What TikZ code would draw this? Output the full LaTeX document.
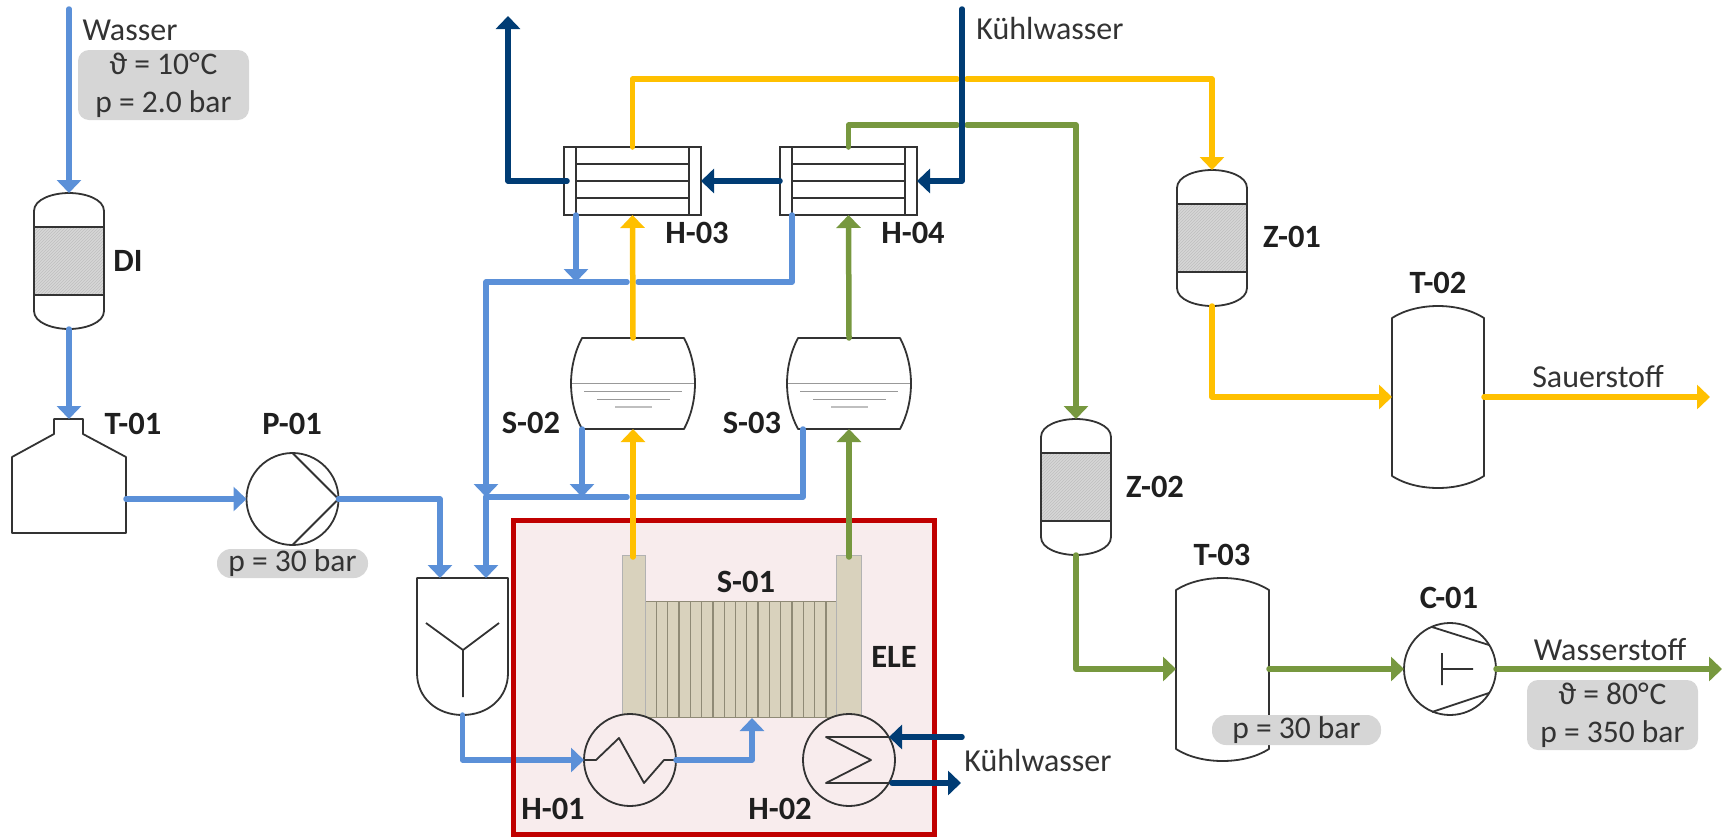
\documentclass[tikz,border=0pt]{standalone}
\usepackage{fontspec}
\setmainfont{Carlito}
\usetikzlibrary{arrows.meta,patterns,calc}
\definecolor{wblue}{HTML}{5B90D8}
\definecolor{cblue}{HTML}{003C74}
\definecolor{oyellow}{HTML}{FFC000}
\definecolor{hgreen}{HTML}{77983F}
\definecolor{redline}{HTML}{C00000}
\definecolor{redfill}{HTML}{F8ECED}
\definecolor{infogrey}{HTML}{D6D6D6}
\definecolor{outline}{HTML}{333333}
\definecolor{stackfill}{HTML}{D9D2BD}
\definecolor{stackline}{HTML}{8F8A76}
\tikzset{
  pipe/.style={line width=5.5pt,line cap=round,line join=round},
  flow/.style={pipe,-{Triangle[length=13pt,width=24pt]}},
  unit/.style={draw=outline,line width=1.8pt,line join=round},
  slot/.style={inner sep=0pt,outer sep=0pt,rectangle},
  machine/.style={circle,draw=outline,line width=1.8pt,inner sep=0pt,outer sep=0pt,minimum size=92pt},
  tag/.style={font=\fontsize{32.5}{38}\selectfont\bfseries,text=black!88,inner sep=0pt},
  txt/.style={font=\fontsize{32}{38}\selectfont,text=black!80,inner sep=0pt},
  infobox/.style={fill=infogrey,align=center,inner sep=0pt,outer sep=0pt,text=black!80,
    font=\fontsize{31.5}{38}\selectfont},
}
% packed column: name, centre x, top y
\newcommand{\packedcol}[3]{%
  \begin{scope}[shift={(#2,#3)}]
    \node[slot,minimum width=70pt,minimum height=136pt,anchor=north] (#1) at (0,0) {};
    \fill[infogrey] (-35,34) rectangle (35,102);
    \fill[pattern=north east lines,pattern color=black!25] (-35,34) rectangle (35,102);
    \draw[unit] (-35,18) .. controls (-35,6) and (-16,0) .. (0,0) .. controls (16,0) and (35,6) .. (35,18)
      -- (35,118) .. controls (35,130) and (16,136) .. (0,136) .. controls (-16,136) and (-35,130) .. (-35,118) -- cycle;
    \draw[unit,line width=2.2pt] (-35,34) -- (35,34) (-35,102) -- (35,102);
  \end{scope}}
% tank: name, x0, x1, y top, y bottom
\newcommand{\dishtank}[5]{%
  \node[slot,minimum width=#3-#2,minimum height=#5-#4,anchor=north west] (#1) at (#2,#4) {};
  \draw[unit] (#2,#4+12) .. controls (#2+25,#4-4) and (#3-25,#4-4) .. (#3,#4+12)
    -- (#3,#5-12) .. controls (#3-25,#5+4) and (#2+25,#5+4) .. (#2,#5-12) -- cycle;}
% tube bundle: name, x left, y top
\newcommand{\tubebundle}[3]{%
  \node[slot,draw=outline,line width=1.8pt,minimum width=137pt,minimum height=68pt,anchor=north west] (#1) at (#2,#3) {};
  \begin{scope}[shift={(#2,#3)}]
    \draw[unit] (12,0) -- (12,68) (125,0) -- (125,68)
      (12,17) -- (125,17) (12,34) -- (125,34) (12,51) -- (125,51);
  \end{scope}}
% separator: name, x centre
\newcommand{\sepvessel}[2]{%
  \begin{scope}[shift={(#2,338)}]
    \node[slot,minimum width=123pt,minimum height=91pt,anchor=north] (#1) at (0,0) {};
    \draw[unit] (-51,0) -- (51,0) .. controls (58,13) and (62,30) .. (62,45) .. controls (62,62) and (58,78) .. (51,91)
      -- (-51,91) .. controls (-58,78) and (-62,62) .. (-62,45) .. controls (-62,30) and (-58,13) .. (-51,0) -- cycle;
    \draw[draw=black!40,line width=1pt] (-61,45) -- (61,45) (-49,53) -- (49,53) (-36,61) -- (37,61);
    \draw[draw=black!25,line width=2pt] (-18,69) -- (19,69);
  \end{scope}}
\begin{document}
\begin{tikzpicture}[x=1pt,y=-1pt]
\useasboundingbox (0,0) rectangle (1725,836);

% electrolyser frame
\fill[redfill] (513,520) rectangle (934,834);

% unit symbols
\packedcol{di}{69}{193}
\packedcol{z01}{1212}{170}
\packedcol{z02}{1076}{419}

\node[slot,minimum width=114pt,minimum height=114pt,anchor=north west] (t01) at (12,419) {};
\draw[unit] (12,533) -- (12,457) -- (54,434) -- (54,419) -- (83,419) -- (83,434) -- (126,457) -- (126,533) -- cycle;

\node[machine] (p01) at (292.5,499) {};
\draw[unit] (p01.north) -- (p01.east) -- (p01.south);

\node[slot,minimum width=91pt,minimum height=137pt,anchor=north west] (mix) at (417,578) {};
\draw[unit] (417,578) -- (508,578) -- (508,673) .. controls (508,698) and (488,715) .. (462.5,715)
   .. controls (437,715) and (417,698) .. (417,673) -- cycle;
\draw[unit] (426,623) -- (463,650) -- (499,623) (463,650) -- (463,697);

\tubebundle{h03}{564}{147}
\tubebundle{h04}{780}{147}
\sepvessel{s02}{633}
\sepvessel{s03}{849}
\dishtank{t02}{1392}{1484}{306}{488}
\dishtank{t03}{1176}{1269}{578}{761}

\node[machine] (c01) at (1450,669) {};
\draw[unit] (1432,627) -- (1489,645) (1489,693) -- (1432,712)
  (1442,653) -- (1442,685) (1442,669) -- (1473,669);

% ports and bends
\coordinate (wasser-in) at (69,9);
\coordinate (t01-out) at (126,499);
\coordinate (mix-in1) at (440,578);
\coordinate (mix-in2) at (486,578);
\coordinate (h03-cond) at (576,215);
\coordinate (h04-cond) at (792,215);
\coordinate (cond-top) at (576,282);
\coordinate (gap1-r) at (638,282);
\coordinate (gap1-l) at (627,282);
\coordinate (s02-drain) at (582,429);
\coordinate (s03-drain) at (803,429);
\coordinate (drain-tip) at (582,497);
\coordinate (gap2-r) at (638,497);
\coordinate (gap2-l) at (627,497);
\coordinate (merge) at (486,497);
\coordinate (stack-in) at (752,718);
\coordinate (yellow-l) at (957,79);
\coordinate (yellow-r) at (967,79);
\coordinate (green-l) at (957,125);
\coordinate (green-r) at (967,125);
\coordinate (cw-top) at (962,9);
\coordinate (cw-exit) at (508,16);
\coordinate (h03-cw) at (567,181);
\coordinate (t02-in) at (1392,397);
\coordinate (t02-out) at (1484,397);
\coordinate (o2-end) at (1710,397);
\coordinate (t03-in) at (1176,669);
\coordinate (t03-out) at (1269,669);
\coordinate (h2-end) at (1722,669);
\coordinate (h02-cwin) at (889,737);
\coordinate (h02-cwout) at (892,783);
\coordinate (cw2-in) at (962,737);
\coordinate (cw2-out) at (961,783);
\coordinate (anode) at (633,557);
\coordinate (cathode) at (849,557);

% water circuit
\draw[flow,wblue] (wasser-in) -- (di.north);
\draw[flow,wblue] (di.south) -- (t01.north);
\draw[flow,wblue] (t01-out) -- (p01.west);
\draw[flow,wblue] (p01.east) -| (mix-in1);
\draw[flow,wblue] (h03-cond) -- (cond-top);
\draw[pipe,wblue] (h04-cond) |- (gap1-r);
\draw[flow,wblue] (gap1-l) -| (merge);
\draw[flow,wblue] (merge) -- (mix-in2);
\draw[flow,wblue] (s02-drain) -- (drain-tip);
\draw[pipe,wblue] (s03-drain) |- (gap2-r);
\draw[pipe,wblue] (gap2-l) -- (merge);

% stack and heat exchangers
\node[slot,fill=stackfill,draw=stackline,line width=1pt,minimum width=191pt,minimum height=116pt,anchor=north west] (s01) at (645,601) {};
\foreach \i in {0,...,15} \draw[stackline,line width=1.3pt] ({656.4+\i*11.3},601) -- ({656.4+\i*11.3},717);
\node[slot,fill=stackfill,draw=black!30,line width=1pt,minimum width=23pt,minimum height=162pt,anchor=north west] (s01-l) at (622,555) {};
\node[slot,fill=stackfill,draw=black!30,line width=1pt,minimum width=25pt,minimum height=162pt,anchor=north west] (s01-r) at (836,555) {};

\node[machine,fill=redfill] (h01) at (630,760) {};
\draw[unit] (h01.west) -- (596,760) -- (619,738) -- (644,783) -- (664,760) -- (h01.east);
\node[machine,fill=redfill] (h02) at (849,760) {};
\draw[unit] (h02-cwin) -- (826,737) -- (871,760) -- (826,783) -- (h02-cwout);

\draw[flow,wblue] (mix.south) |- (h01.west);
\draw[flow,wblue] (h01.east) -| (stack-in);

% frame outline
\draw[redline,line width=5pt,line join=miter] (513,520) rectangle (934,834);

% oxygen
\draw[flow,oyellow] (anode) -- (s02.south);
\draw[flow,oyellow] (s02.north) -- (h03.south);
\draw[pipe,oyellow] (h03.north) |- (yellow-l);
\draw[flow,oyellow] (yellow-r) -| (z01.north);
\draw[flow,oyellow] (z01.south) |- (t02-in);
\draw[flow,oyellow] (t02-out) -- (o2-end);

% hydrogen
\draw[flow,hgreen] (cathode) -- (s03.south);
\draw[flow,hgreen] (s03.north) -- (h04.south);
\draw[pipe,hgreen] (h04.north) |- (green-l);
\draw[flow,hgreen] (green-r) -| (z02.north);
\draw[flow,hgreen] (z02.south) |- (t03-in);
\draw[flow,hgreen] (t03-out) -- (c01.west);
\draw[flow,hgreen] (c01.east) -- (h2-end);

% cooling water
\draw[flow,cblue] (cw-top) |- (h04.east);
\draw[flow,cblue] (h04.west) -- (h03.east);
\draw[flow,cblue] (h03-cw) -| (cw-exit);
\draw[flow,cblue] (cw2-in) -- (h02-cwin);
\draw[flow,cblue] (h02-cwout) -- (cw2-out);

% info boxes
\node[infobox,rounded corners=11pt,minimum width=171pt,minimum height=70pt] (info-w) at (163.5,85) {ϑ = 10°\kern1pt C\\p = 2.0 bar};
\node[infobox,rounded corners=14pt,minimum width=151pt,minimum height=29pt] (info-p) at (292.5,563.5) {p = 30 bar};
\node[infobox,rounded corners=14pt,minimum width=169pt,minimum height=30pt] (info-t) at (1296.5,730) {p = 30 bar};
\node[infobox,rounded corners=11pt,minimum width=171pt,minimum height=70pt] (info-h) at (1612.5,715) {ϑ = 80°\kern1pt C\\p = 350 bar};

% labels
\node[txt] (l-wasser) at (130,30) {Wasser};
\node[txt] (l-kw1) at (1050,29) {Kühlwasser};
\node[txt] (l-kw2) at (1038,760) {Kühlwasser};
\node[txt] (l-o2) at (1598,377) {Sauerstoff};
\node[txt] (l-h2) at (1610,650) {Wasserstoff};
\node[tag] (t-di) at (128,261) {DI};
\node[tag] (t-t01) at (133,424) {T-01};
\node[tag] (t-p01) at (292,424) {P-01};
\node[tag] (t-h03) at (697,233) {H-03};
\node[tag] (t-h04) at (913,233) {H-04};
\node[tag] (t-s02) at (531,423) {S-02};
\node[tag] (t-s03) at (752,423) {S-03};
\node[tag] (t-s01) at (746,582) {S-01};
\node[tag] (t-ele) at (894,657) {ELE};
\node[tag] (t-h01) at (553,809) {H-01};
\node[tag] (t-h02) at (780,809) {H-02};
\node[tag] (t-z01) at (1292,237) {Z-01};
\node[tag] (t-z02) at (1155,487) {Z-02};
\node[tag] (t-t02) at (1438,283) {T-02};
\node[tag] (t-t03) at (1222,555) {T-03};
\node[tag] (t-c01) at (1449,598) {C-01};
\end{tikzpicture}
\end{document}
